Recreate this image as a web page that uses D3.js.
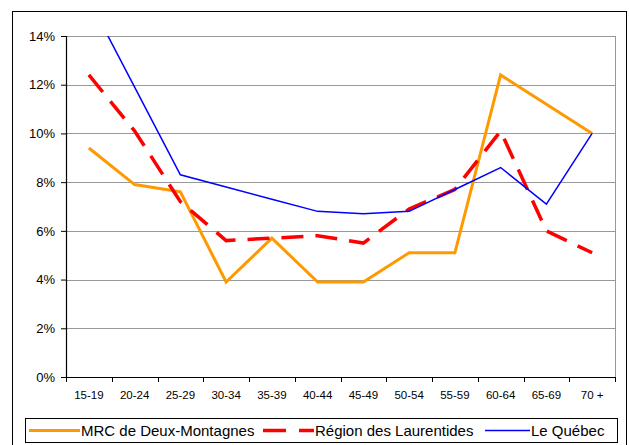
<!DOCTYPE html>
<html>
<head>
<meta charset="utf-8">
<script src="https://cdn.jsdelivr.net/npm/d3@7"></script>
<style>
  body { margin: 0; background: #fff; }
  text { font-family: "Liberation Sans", Arial, sans-serif; fill: #000; }
</style>
</head>
<body>
<script>
// age groups and shares (%)
var ageGroups = ["15-19", "20-24", "25-29", "30-34", "35-39", "40-44", "45-49", "50-54", "55-59", "60-64", "65-69", "70 +"];
var mrcValues = [9.4, 7.9, 7.6, 3.9, 5.7, 3.9, 3.9, 5.1, 5.1, 12.4, 11.2, 10.0];
var regionValues = [12.4, 10.1, 7.2, 5.6, 5.7, 5.8, 5.5, 6.9, 7.7, 10.1, 6.0, 5.1];
var quebecValues = [15.5, 11.9, 8.3, 7.8, 7.3, 6.8, 6.7, 6.8, 7.7, 8.6, 7.1, 10.0];
var yTicks = [0, 2, 4, 6, 8, 10, 12, 14];

var series = [
    { name: "MRC de Deux-Montagnes", values: mrcValues, color: "#FF9900", width: 3, dash: null },
    { name: "Région des Laurentides", values: regionValues, color: "#FF0000", width: 3.5, dash: "22,12" },
    { name: "Le Québec", values: quebecValues, color: "#0000FF", width: 1.5, dash: null }
];

var svgWidth = 629, svgHeight = 445;
var margin = { top: 36, right: 14, bottom: 68, left: 66 };
var width = 615 - margin.left;
var height = 377 - margin.top;

var svg = d3.select("body").append("svg")
    .attr("width", svgWidth)
    .attr("height", svgHeight);

// outer frame
svg.append("rect")
    .attr("x", 12.5).attr("y", 11.5)
    .attr("width", 614).attr("height", 440)
    .attr("fill", "none").attr("stroke", "#000");

var xscale = d3.scaleBand().domain(ageGroups).range([0, width]);
var yscale = d3.scaleLinear().domain([0, 14]).range([height, 0]);

var g = svg.append("g")
    .attr("transform", "translate(" + margin.left + "," + margin.top + ")");

// gridlines
g.selectAll("line.grid").data(yTicks.slice(1)).enter().append("line")
    .attr("class", "grid")
    .attr("x1", 0).attr("x2", width)
    .attr("y1", function(d) { return Math.round(yscale(d)) + 0.5; })
    .attr("y2", function(d) { return Math.round(yscale(d)) + 0.5; })
    .attr("stroke", "#999").attr("stroke-width", 1);

// right border of plot area
g.append("line")
    .attr("x1", width + 0.5).attr("x2", width + 0.5)
    .attr("y1", 0).attr("y2", height)
    .attr("stroke", "#999");

// x axis with ticks on band edges
var xAxis = g.append("g")
    .attr("transform", "translate(0," + height + ")");
xAxis.append("line")
    .attr("x1", 0).attr("x2", width).attr("y1", 0.5).attr("y2", 0.5)
    .attr("stroke", "#000");
var edges = ageGroups.map(function(d) { return xscale(d); }).concat([width]);
xAxis.selectAll("line.tick").data(edges).enter().append("line")
    .attr("class", "tick")
    .attr("x1", function(d) { return Math.round(d) + 0.5; })
    .attr("x2", function(d) { return Math.round(d) + 0.5; })
    .attr("y1", 0).attr("y2", 5)
    .attr("stroke", "#000");
xAxis.selectAll("text").data(ageGroups).enter().append("text")
    .attr("x", function(d) { return xscale(d) + xscale.bandwidth() / 2; })
    .attr("y", 22)
    .attr("text-anchor", "middle")
    .style("font-size", "11.5px")
    .text(function(d) { return d; });

// y axis
var yAxis = g.append("g")
    .call(d3.axisLeft(yscale).tickValues(yTicks).tickSize(5).tickPadding(6)
        .tickFormat(function(d) { return d + "%"; }));
yAxis.select(".domain").attr("stroke", "#000").attr("stroke-width", 1.2);
yAxis.selectAll("text").style("font-size", "13px")
    .style("font-family", "Liberation Sans, Arial, sans-serif");

// lines
var clip = svg.append("clipPath").attr("id", "plotclip")
    .append("rect").attr("x", 0).attr("y", 0).attr("width", width).attr("height", height);

var line = d3.line()
    .x(function(d, i) { return xscale(ageGroups[i]) + xscale.bandwidth() / 2; })
    .y(function(d) { return yscale(d); });

var lines = g.append("g").attr("clip-path", "url(#plotclip)");
series.forEach(function(s) {
    lines.append("path")
        .datum(s.values)
        .attr("fill", "none")
        .attr("stroke", s.color)
        .attr("stroke-width", s.width)
        .attr("stroke-dasharray", s.dash)
        .attr("stroke-linejoin", "miter")
        .attr("d", line);
});

// legend
var legend = svg.append("g");
legend.append("rect")
    .attr("x", 25.5).attr("y", 418.5)
    .attr("width", 592).attr("height", 24)
    .attr("fill", "#fff").attr("stroke", "#000");

var legendX = [29, 263, 485];
series.forEach(function(s, i) {
    legend.append("line")
        .attr("x1", legendX[i]).attr("x2", legendX[i] + (i == 2 ? 45 : 51))
        .attr("y1", 430.5).attr("y2", 430.5)
        .attr("stroke", s.color)
        .attr("stroke-width", s.width)
        .attr("stroke-dasharray", s.dash ? "23,13" : null);
    legend.append("text")
        .attr("x", legendX[i] + (i == 2 ? 46 : 52))
        .attr("y", 436)
        .style("font-size", "15px")
        .text(s.name);
});
</script>
</body>
</html>
